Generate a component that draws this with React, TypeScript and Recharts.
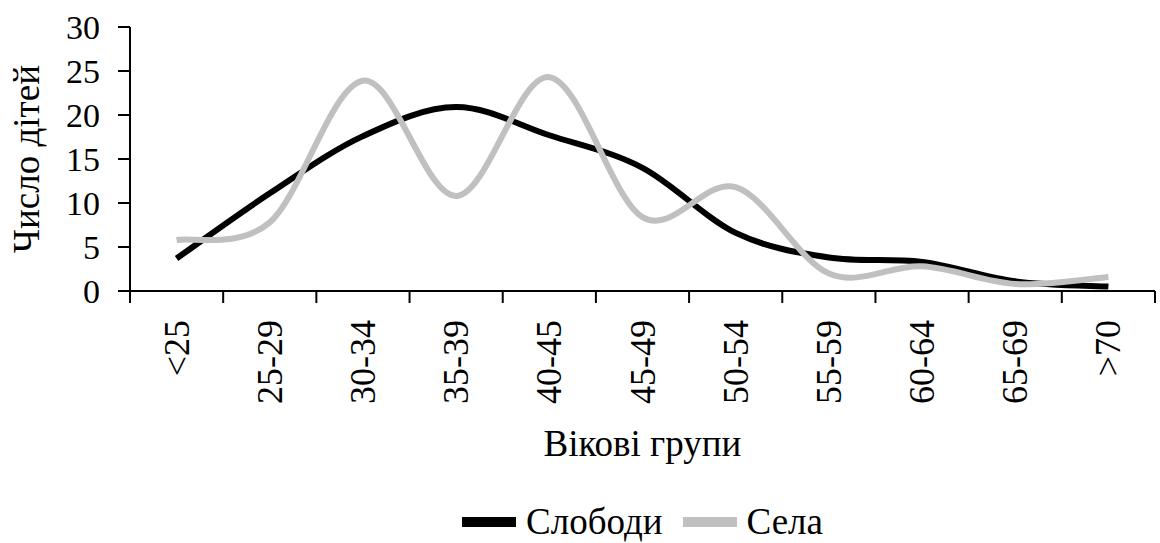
import { Line, LineChart, XAxis, YAxis } from 'recharts'

const AGE_GROUPS = ['<25', '25-29', '30-34', '35-39', '40-45', '45-49', '50-54', '55-59', '60-64', '65-69', '>70']
const SLOBODY = [3.7, 11.1, 17.6, 20.9, 17.7, 14.0, 6.6, 3.8, 3.3, 1.1, 0.5]
const SELA = [5.8, 7.8, 23.9, 10.8, 24.3, 8.4, 11.8, 2.0, 2.8, 0.8, 1.6]
const Y_TICKS = [0, 5, 10, 15, 20, 25, 30]

const FONT = '"Liberation Serif", "Times New Roman", serif'
const BLACK = '#000000'
const GRAY = '#c0c0c0'
const TICK_LEN = 12
const TICK_GAP = 17

const data = AGE_GROUPS.map((group, i) => ({
  group,
  slobody: SLOBODY[i],
  sela: SELA[i],
}))

// Excel-like smoothed line (Catmull-Rom as cubic beziers)
function excelSmooth(context: any) {
  let pts: number[][] = []
  return {
    areaStart() {},
    areaEnd() {},
    lineStart() {
      pts = []
    },
    point(x: number, y: number) {
      pts.push([+x, +y])
    },
    lineEnd() {
      if (!pts.length) return
      context.moveTo(pts[0][0], pts[0][1])
      for (let i = 0; i < pts.length - 1; i++) {
        const p0 = pts[i - 1] || pts[i]
        const p1 = pts[i]
        const p2 = pts[i + 1]
        const p3 = pts[i + 2] || pts[i + 1]
        context.bezierCurveTo(
          p1[0] + (p2[0] - p0[0]) / 6,
          p1[1] + (p2[1] - p0[1]) / 6,
          p2[0] - (p3[0] - p1[0]) / 6,
          p2[1] - (p3[1] - p1[1]) / 6,
          p2[0],
          p2[1],
        )
      }
    },
  }
}

// category label plus Excel-style tick marks between categories
function AgeTick({ x, y, payload, index }: any) {
  const half = payload.offset || 0
  const axisY = y - TICK_LEN - TICK_GAP
  const last = index === AGE_GROUPS.length - 1
  return (
    <g>
      <line x1={x - half} x2={x - half} y1={axisY} y2={axisY + TICK_LEN} stroke={BLACK} strokeWidth={2} />
      {last && (
        <line x1={x + half} x2={x + half} y1={axisY} y2={axisY + TICK_LEN} stroke={BLACK} strokeWidth={2} />
      )}
      <text
        x={x}
        y={y}
        transform={`rotate(-90 ${x} ${y})`}
        textAnchor="end"
        dominantBaseline="central"
        fontSize={36}
        fontFamily={FONT}
        fill={BLACK}
      >
        {payload.value}
      </text>
    </g>
  )
}

function YTitle({ viewBox }: any) {
  const cx = viewBox.x + 26
  const cy = viewBox.y + viewBox.height / 2
  return (
    <text
      x={cx}
      y={cy}
      transform={`rotate(-90 ${cx} ${cy})`}
      textAnchor="middle"
      dominantBaseline="central"
      fontSize={37}
      fontFamily={FONT}
      fill={BLACK}
    >
      Число дітей
    </text>
  )
}

function XTitle({ viewBox }: any) {
  return (
    <text
      x={viewBox.x + viewBox.width / 2}
      y={viewBox.y + 165}
      textAnchor="middle"
      fontSize={37}
      fontFamily={FONT}
      fill={BLACK}
    >
      Вікові групи
    </text>
  )
}

function LegendItem({ color, label }: { color: string; label: string }) {
  return (
    <div style={{ display: 'flex', alignItems: 'center', gap: 10 }}>
      <div style={{ width: 54, height: 10, background: color }} />
      <span>{label}</span>
    </div>
  )
}

export default function App() {
  return (
    <div style={{ position: 'absolute', left: 0, top: 0, width: 1160, height: 543, background: '#fff' }}>
      <LineChart width={1160} height={543} data={data} margin={{ top: 27, right: 5, bottom: 82, left: 0 }}>
        <XAxis
          dataKey="group"
          scale="band"
          height={170}
          interval={0}
          axisLine={{ stroke: BLACK, strokeWidth: 2 }}
          tickLine={false}
          tickSize={TICK_LEN}
          tickMargin={TICK_GAP}
          tick={<AgeTick />}
          label={{ content: (props: any) => <XTitle {...props} /> }}
        />
        <YAxis
          domain={[0, 30]}
          ticks={Y_TICKS}
          width={130}
          tickSize={12}
          tickMargin={18}
          interval={0}
          tick={{ fontSize: 34, fontFamily: FONT, fill: BLACK }}
          axisLine={{ stroke: BLACK, strokeWidth: 2 }}
          tickLine={{ stroke: BLACK, strokeWidth: 2 }}
          label={{ content: (props: any) => <YTitle {...props} /> }}
        />
        <Line
          dataKey="slobody"
          name="Слободи"
          type={excelSmooth as any}
          stroke={BLACK}
          strokeWidth={6}
          dot={false}
          activeDot={false}
          isAnimationActive={false}
        />
        <Line
          dataKey="sela"
          name="Села"
          type={excelSmooth as any}
          stroke={GRAY}
          strokeWidth={6}
          dot={false}
          activeDot={false}
          isAnimationActive={false}
        />
      </LineChart>
      <div
        style={{
          position: 'absolute',
          left: 130,
          width: 1025,
          top: 502,
          display: 'flex',
          justifyContent: 'center',
          gap: 20,
          fontFamily: FONT,
          fontSize: 37,
          color: BLACK,
          lineHeight: '40px',
        }}
      >
        <LegendItem color={BLACK} label="Слободи" />
        <LegendItem color={GRAY} label="Села" />
      </div>
    </div>
  )
}
